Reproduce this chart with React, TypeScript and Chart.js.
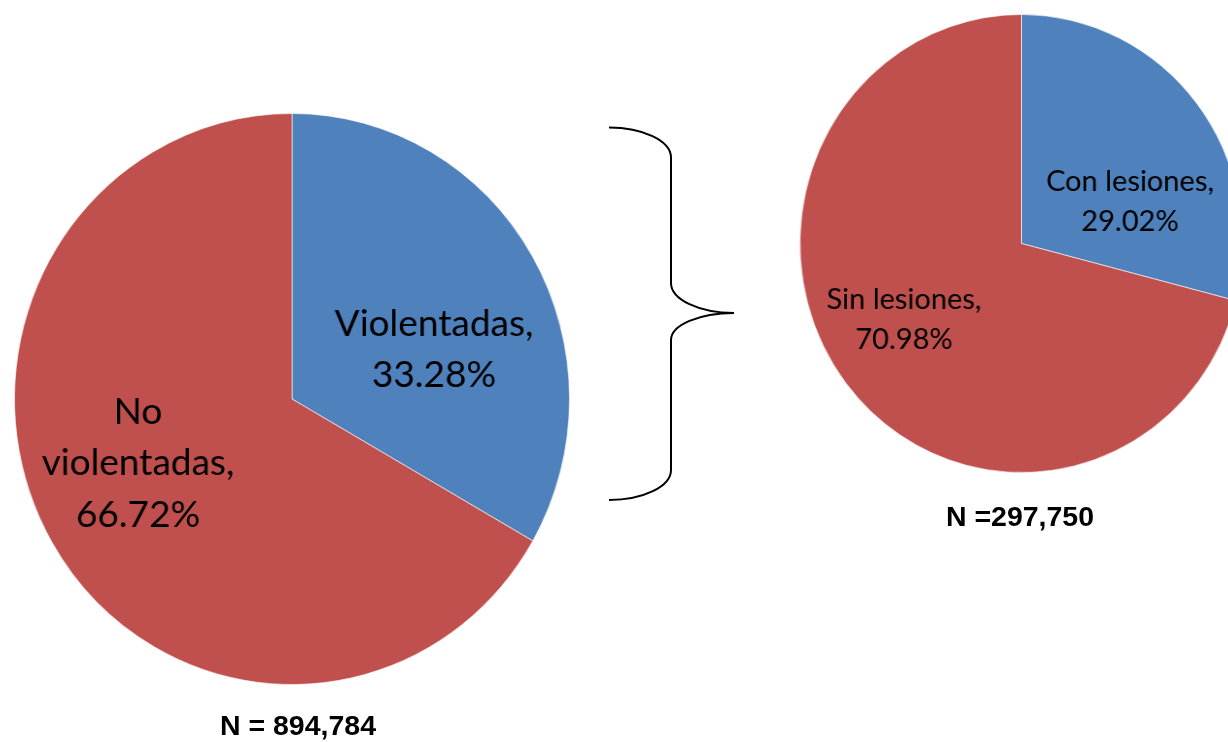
import React, { useEffect, useRef } from "react";
import { Chart, registerables } from "chart.js";
Chart.register(...registerables);

// ---- data ----
const mainCategories = ["Violentadas", "No violentadas"];
const mainValues = [33.28, 66.72];
const mainLabelWrap = [["Violentadas,"], ["No", "violentadas,"]];
const mainTotal = "N = 894,784";

const subCategories = ["Con lesiones", "Sin lesiones"];
const subValues = [29.02, 70.98];
const subLabelWrap = [["Con lesiones,"], ["Sin lesiones,"]];
const subTotal = "N =297,750";

const sliceColors = ["#4F81BD", "#C0504D"];

type LabelPos = { dx: number; dy: number };

type PieProps = {
  categories: string[];
  values: number[];
  wrap: string[][];
  cx: number;
  cy: number;
  rx: number;
  ry: number;
  fontSize: number;
  lineHeight: number;
  labelPos: LabelPos[];
};

function StretchedPie(p: PieProps) {
  const ref = useRef<HTMLCanvasElement | null>(null);
  const border = 1;
  const size = Math.round(p.ry * 2 + border);
  const sx = p.rx / p.ry;

  useEffect(() => {
    if (!ref.current) return;
    const labelPlugin = {
      id: "sliceLabels",
      afterDatasetsDraw(chart: any) {
        const ctx = chart.ctx as CanvasRenderingContext2D;
        const meta = chart.getDatasetMeta(0);
        meta.data.forEach((arc: any, i: number) => {
          const pos = p.labelPos[i];
          const lines = [...p.wrap[i], p.values[i].toFixed(2) + "%"];
          ctx.save();
          ctx.translate(arc.x + pos.dx / sx, arc.y + pos.dy);
          ctx.scale(1 / sx, 1);
          ctx.font = `${p.fontSize}px Lato, "Open Sans", sans-serif`;
          ctx.fillStyle = "#000000";
          ctx.textAlign = "center";
          ctx.textBaseline = "alphabetic";
          lines.forEach((line, j) => ctx.fillText(line, 0, j * p.lineHeight));
          ctx.restore();
        });
      },
    };
    const chart = new Chart(ref.current, {
      type: "pie",
      data: {
        labels: p.categories,
        datasets: [
          {
            data: p.values,
            backgroundColor: sliceColors,
            borderColor: "rgba(255,255,255,0.6)",
            borderWidth: border,
          },
        ],
      },
      options: {
        responsive: false,
        animation: false,
        events: [],
        layout: { padding: 0 },
        rotation: 0,
        plugins: {
          legend: { display: false },
          tooltip: { enabled: false },
          title: { display: false },
        },
      },
      plugins: [labelPlugin],
    });
    return () => chart.destroy();
  }, []);

  return (
    <canvas
      ref={ref}
      width={size}
      height={size}
      style={{
        position: "absolute",
        left: p.cx - size / 2,
        top: p.cy - size / 2,
        width: size,
        height: size,
        transform: `scaleX(${sx})`,
        transformOrigin: "center center",
      }}
    />
  );
}

export default function App() {
  return (
    <div
      style={{
        position: "absolute",
        left: 0,
        top: 0,
        width: 1228,
        height: 742,
        overflow: "hidden",
        background: "#ffffff",
      }}
    >
      <StretchedPie
        categories={mainCategories}
        values={mainValues}
        wrap={mainLabelWrap}
        cx={291.5}
        cy={398.5}
        rx={277.5}
        ry={285.5}
        fontSize={37}
        lineHeight={51.5}
        labelPos={[
          { dx: 142, dy: -63.5 },
          { dx: -154, dy: 24.5 },
        ]}
      />
      <StretchedPie
        categories={subCategories}
        values={subValues}
        wrap={subLabelWrap}
        cx={1021.5}
        cy={243}
        rx={221.5}
        ry={229}
        fontSize={29}
        lineHeight={40}
        labelPos={[
          { dx: 108.5, dy: -53 },
          { dx: -117.5, dy: 65 },
        ]}
      />
      <svg
        width={1228}
        height={742}
        style={{ position: "absolute", left: 0, top: 0, pointerEvents: "none" }}
      >
        <path
          d="M 609 127.5 A 62 30 0 0 1 671 157 L 671 283 A 63 30 0 0 0 734 313 A 63 27 0 0 0 671 340 L 671 470 A 62 30 0 0 1 609 500"
          fill="none"
          stroke="#000000"
          strokeWidth={2}
        />
      </svg>
      <div
        style={{
          position: "absolute",
          left: 298 - 150,
          width: 300,
          top: 736 - 27,
          textAlign: "center",
          font: 'bold 28.5px "Liberation Sans", Arial, sans-serif',
          lineHeight: "33px",
          color: "#000",
          whiteSpace: "nowrap",
        }}
      >
        {mainTotal}
      </div>
      <div
        style={{
          position: "absolute",
          left: 1020 - 150,
          width: 300,
          top: 526.7 - 27,
          textAlign: "center",
          font: 'bold 28.5px "Liberation Sans", Arial, sans-serif',
          lineHeight: "33px",
          color: "#000",
          whiteSpace: "nowrap",
        }}
      >
        {subTotal}
      </div>
    </div>
  );
}
